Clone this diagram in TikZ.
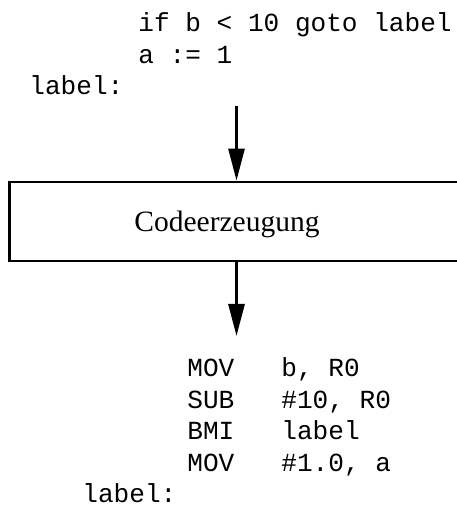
\documentclass[tikz,border=0pt]{standalone}
\usepackage{fontspec}
\setmainfont{Liberation Serif}
\setmonofont{Liberation Mono}
\usetikzlibrary{arrows.meta}

\begin{document}
\begin{tikzpicture}[x=0.5pt,y=-0.5pt,>={Triangle[length=16pt,width=8pt]},
                    line width=1.4pt,
                    code/.style={font=\fontsize{13.05}{15.7}\selectfont\ttfamily,anchor=base west,inner sep=0pt},
                    phase/.style={draw,minimum width=226.8pt,minimum height=39.5pt,inner sep=0pt}]
  \useasboundingbox (0,0) rectangle (456,506);
  % source program
  \node[code] (if)   at (137,32)   {if b < 10 goto label};
  \node[code] (asg)  at (137,63.5) {a := 1};
  \node[code] (lbl1) at (28,95)    {label:};
  % compiler phase
  \coordinate (in) at (236.5,106);
  \node[phase] (gen) at (236.5,221.5) {};
  \node[font=\fontsize{14.75}{17}\selectfont,anchor=base] (gentext) at (227,232) {Codeerzeugung};
  \coordinate (out) at (236.5,336);
  \draw[->] (in) -- (gen);
  \draw[->] (gen) -- (out);
  % target program
  \node[code] (mov1) at (186,376) {MOV};
  \node[code] (mov1arg) at (280,376) {b, R0};
  \node[code] (sub) at (186,408) {SUB};
  \node[code] (subarg) at (280,408) {\#10, R0};
  \node[code] (bmi) at (186,439.5) {BMI};
  \node[code] (bmiarg) at (280,439.5) {label};
  \node[code] (mov2) at (186,471) {MOV};
  \node[code] (mov2arg) at (280,471) {\#1.0, a};
  \node[code] (lbl2) at (81,502.5) {label:};
\end{tikzpicture}
\end{document}
